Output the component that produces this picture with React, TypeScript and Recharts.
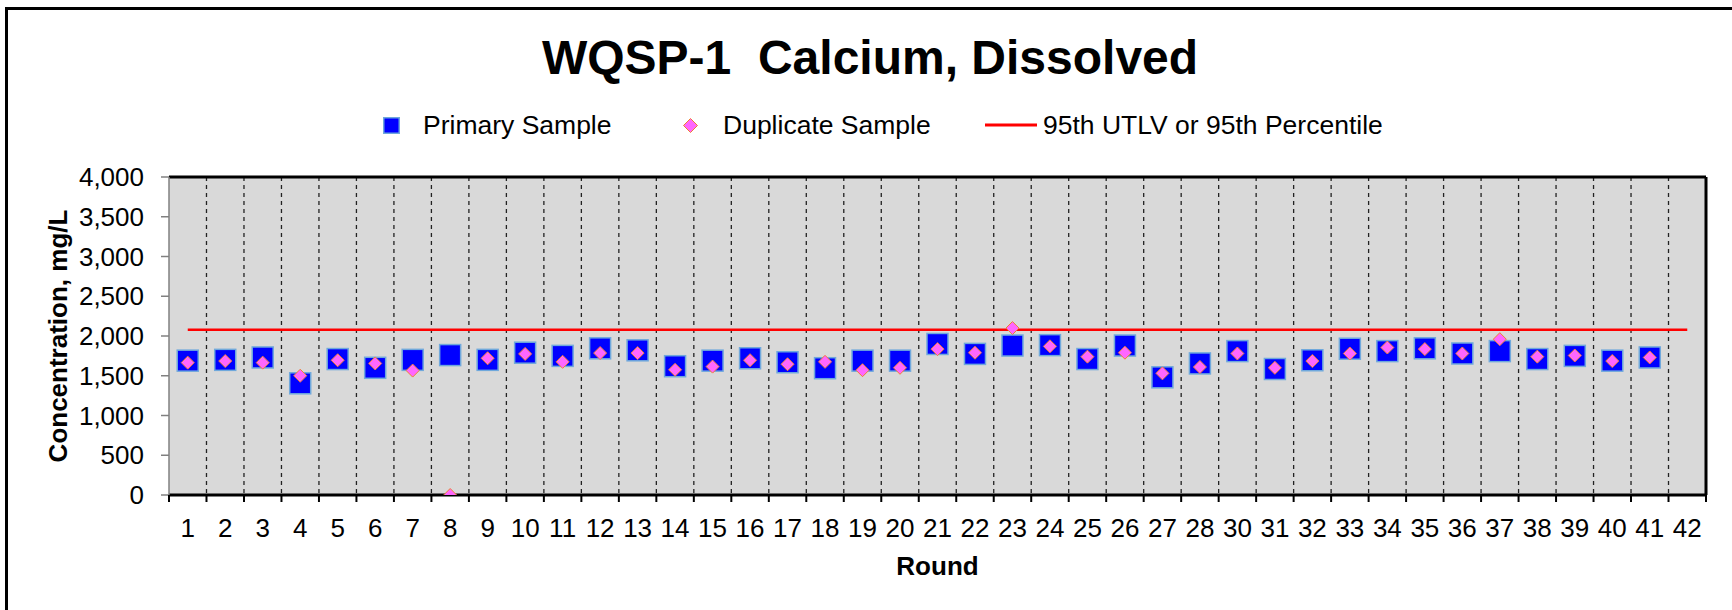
import React from 'react';
import { ComposedChart, Line, XAxis, YAxis, CartesianGrid, Legend, Label } from 'recharts';

// sampling rounds (29 was skipped in the report)
const rounds = [
  '1', '2', '3', '4', '5', '6', '7', '8', '9', '10',
  '11', '12', '13', '14', '15', '16', '17', '18', '19', '20',
  '21', '22', '23', '24', '25', '26', '27', '28', '30', '31',
  '32', '33', '34', '35', '36', '37', '38', '39', '40', '41', '42',
];

// mg/L
const primary = [
  1690, 1700, 1730, 1405, 1710, 1600, 1700, 1760, 1700, 1790,
  1750, 1845, 1820, 1620, 1690, 1720, 1670, 1595, 1690, 1690,
  1900, 1775, 1880, 1885, 1710, 1880, 1480, 1655, 1810, 1585,
  1695, 1840, 1810, 1845, 1780, 1810, 1710, 1750, 1690, 1730, null,
];

const duplicate = [
  1665, 1685, 1665, 1500, 1695, 1655, 1565, 0, 1720, 1775,
  1675, 1785, 1785, 1575, 1615, 1695, 1645, 1675, 1570, 1600,
  1835, 1790, 2100, 1870, 1740, 1790, 1530, 1610, 1780, 1600,
  1685, 1780, 1855, 1835, 1780, 1960, 1740, 1755, 1685, 1730, null,
];

const UTLV = 2080;

const yTicks = [0, 500, 1000, 1500, 2000, 2500, 3000, 3500, 4000];

const data = rounds.map((round, i) => ({
  round,
  primary: primary[i],
  duplicate: duplicate[i],
  utlv: UTLV,
}));

const FONT = '"Liberation Sans", Arial, sans-serif';

const SquareDot = (props: any) => {
  const { cx, cy, value, index } = props;
  if (value == null || cy == null) return <g key={`sq-${index}`} />;
  return (
    <rect
      key={`sq-${index}`}
      x={cx - 10.5}
      y={cy - 10.5}
      width={21}
      height={21}
      fill="#0000FF"
      stroke="#6FA8DC"
      strokeWidth={1.5}
    />
  );
};

const DiamondDot = (props: any) => {
  const { cx, cy, value, index } = props;
  if (value == null || cy == null) return <g key={`dm-${index}`} />;
  const r = 6.5;
  return (
    <polygon
      key={`dm-${index}`}
      points={`${cx},${cy - r} ${cx + r},${cy} ${cx},${cy + r} ${cx - r},${cy}`}
      fill="#FF66FF"
      stroke="#F08030"
      strokeWidth={1}
    />
  );
};

// dashed lines go on the borders between rounds (start of every band but the first)
const bandBorders = ({ xAxis, offset }: any) => {
  const scale = xAxis?.scale;
  const toPx = (v: string) => {
    if (typeof scale === 'function') return scale(v);
    if (scale && typeof scale.map === 'function') return scale.map(v);
    return undefined;
  };
  let pts = rounds.map((r) => toPx(r));
  if (pts.some((p) => typeof p !== 'number' || isNaN(p))) {
    const step = offset.width / rounds.length;
    pts = rounds.map((_, i) => offset.left + i * step);
  } else if ((pts[0] as number) - offset.left > 1) {
    // scale gave band centres: shift back half a band
    const half = ((pts[1] as number) - (pts[0] as number)) / 2;
    pts = pts.map((p) => (p as number) - half);
  }
  return pts.slice(1) as number[];
};

// label in the middle of the band, tick mark on its left border
const RoundTick = (props: any) => {
  const { x, y, payload, index, visibleTicksCount, width } = props;
  const half = payload?.offset || width / visibleTicksCount / 2;
  return (
    <g>
      <line x1={x - half} x2={x - half} y1={y} y2={y + 7} stroke="#000" strokeWidth={2} />
      {index === visibleTicksCount - 1 && (
        <line x1={x + half} x2={x + half} y1={y} y2={y + 7} stroke="#000" strokeWidth={2} />
      )}
      <text x={x} y={y + 24} dy="0.71em" textAnchor="middle" fontSize={26} fill="#000" fontFamily={FONT}>
        {payload.value}
      </text>
    </g>
  );
};

const renderLegend = () => (
  <div style={{ position: 'relative', height: 30, fontSize: 26.5, color: '#000', fontFamily: FONT }}>
    <div style={{ position: 'absolute', left: 383, top: 0, height: 30, display: 'flex', alignItems: 'center' }}>
      <svg width={17} height={17}>
        <rect x={0.75} y={0.75} width={15.5} height={15.5} fill="#0000FF" stroke="#6FA8DC" strokeWidth={1.5} />
      </svg>
      <span style={{ marginLeft: 23, whiteSpace: 'nowrap' }}>Primary Sample</span>
    </div>
    <div style={{ position: 'absolute', left: 683, top: 0, height: 30, display: 'flex', alignItems: 'center' }}>
      <svg width={15} height={15}>
        <polygon points="7.5,0.5 14.5,7.5 7.5,14.5 0.5,7.5" fill="#FF66FF" stroke="#F08030" strokeWidth={1} />
      </svg>
      <span style={{ marginLeft: 25, whiteSpace: 'nowrap' }}>Duplicate Sample</span>
    </div>
    <div style={{ position: 'absolute', left: 985, top: 0, height: 30, display: 'flex', alignItems: 'center' }}>
      <svg width={52} height={4}>
        <line x1={0} y1={2} x2={52} y2={2} stroke="#FF0000" strokeWidth={3} />
      </svg>
      <span style={{ marginLeft: 6, whiteSpace: 'nowrap' }}>95th UTLV or 95th Percentile</span>
    </div>
  </div>
);

const YTitle = (props: any) => {
  const { viewBox } = props;
  const x = viewBox.x + 58;
  const y = viewBox.y + viewBox.height / 2;
  return (
    <text
      x={x}
      y={y}
      transform={`rotate(-90, ${x}, ${y})`}
      textAnchor="middle"
      dominantBaseline="central"
      fontSize={26}
      fontWeight="bold"
      fill="#000"
      fontFamily={FONT}
    >
      Concentration, mg/L
    </text>
  );
};

export default function App() {
  return (
    <div style={{ position: 'absolute', left: 0, top: 0, width: 1732, height: 610, background: '#fff', overflow: 'hidden', fontFamily: FONT }}>
      <div style={{ position: 'absolute', left: 5, top: 7, width: 1800, height: 700, borderLeft: '3px solid #000', borderTop: '3px solid #000' }} />
      <div style={{ position: 'absolute', left: 4, top: 34, width: 1732, textAlign: 'center', fontSize: 48, lineHeight: '48px', fontWeight: 'bold', color: '#000', whiteSpace: 'pre' }}>
        {'WQSP-1  Calcium, Dissolved'}
      </div>
      <div style={{ position: 'absolute', left: 0, top: 0 }}>
        <ComposedChart
          width={1732}
          height={610}
          data={data}
          margin={{ top: 176, right: 25, left: 0, bottom: 55 }}
          style={{ fontFamily: FONT }}
        >
          <CartesianGrid
            horizontal={false}
            stroke="#222"
            strokeWidth={1.3}
            strokeDasharray="4 4"
            fill="#D9D9D9"
            verticalCoordinatesGenerator={bandBorders}
          />
          <XAxis
            xAxisId={0}
            dataKey="round"
            type="category"
            scale="band"
            interval={0}
            height={60}
            axisLine={{ stroke: '#000', strokeWidth: 3 }}
            tickLine={false}
            tickSize={0}
            tickMargin={0}
            tick={<RoundTick />}
          >
            <Label value="Round" position="bottom" offset={2} fontSize={26} fontWeight="bold" fill="#000" />
          </XAxis>
          <XAxis
            xAxisId={1}
            orientation="top"
            dataKey="round"
            type="category"
            scale="band"
            height={1}
            tick={false}
            tickLine={false}
            axisLine={{ stroke: '#000', strokeWidth: 3 }}
          />
          <YAxis
            yAxisId={0}
            domain={[0, 4000]}
            ticks={yTicks}
            allowDataOverflow
            width={169}
            tickSize={8}
            tickMargin={17}
            tickFormatter={(v: number) => v.toLocaleString('en-US')}
            tick={{ fontSize: 26, fill: '#000' }}
            axisLine={{ stroke: '#808080', strokeWidth: 1.5 }}
            tickLine={{ stroke: '#808080', strokeWidth: 1.5 }}
          >
            <Label content={<YTitle />} />
          </YAxis>
          <YAxis
            yAxisId={1}
            orientation="right"
            domain={[0, 4000]}
            allowDataOverflow
            width={1}
            tick={false}
            tickLine={false}
            axisLine={{ stroke: '#000', strokeWidth: 3 }}
          />
          <Legend
            verticalAlign="middle"
            align="center"
            wrapperStyle={{ top: 110, left: 0, width: 1732, height: 30 }}
            content={renderLegend}
          />
          <Line
            dataKey="utlv"
            name="95th UTLV or 95th Percentile"
            stroke="#FF0000"
            strokeWidth={2.5}
            dot={false}
            activeDot={false}
            isAnimationActive={false}
          />
          <Line
            dataKey="primary"
            name="Primary Sample"
            stroke="none"
            dot={SquareDot}
            activeDot={false}
            isAnimationActive={false}
          />
          <Line
            dataKey="duplicate"
            name="Duplicate Sample"
            stroke="none"
            dot={DiamondDot}
            activeDot={false}
            isAnimationActive={false}
          />
        </ComposedChart>
      </div>
    </div>
  );
}
